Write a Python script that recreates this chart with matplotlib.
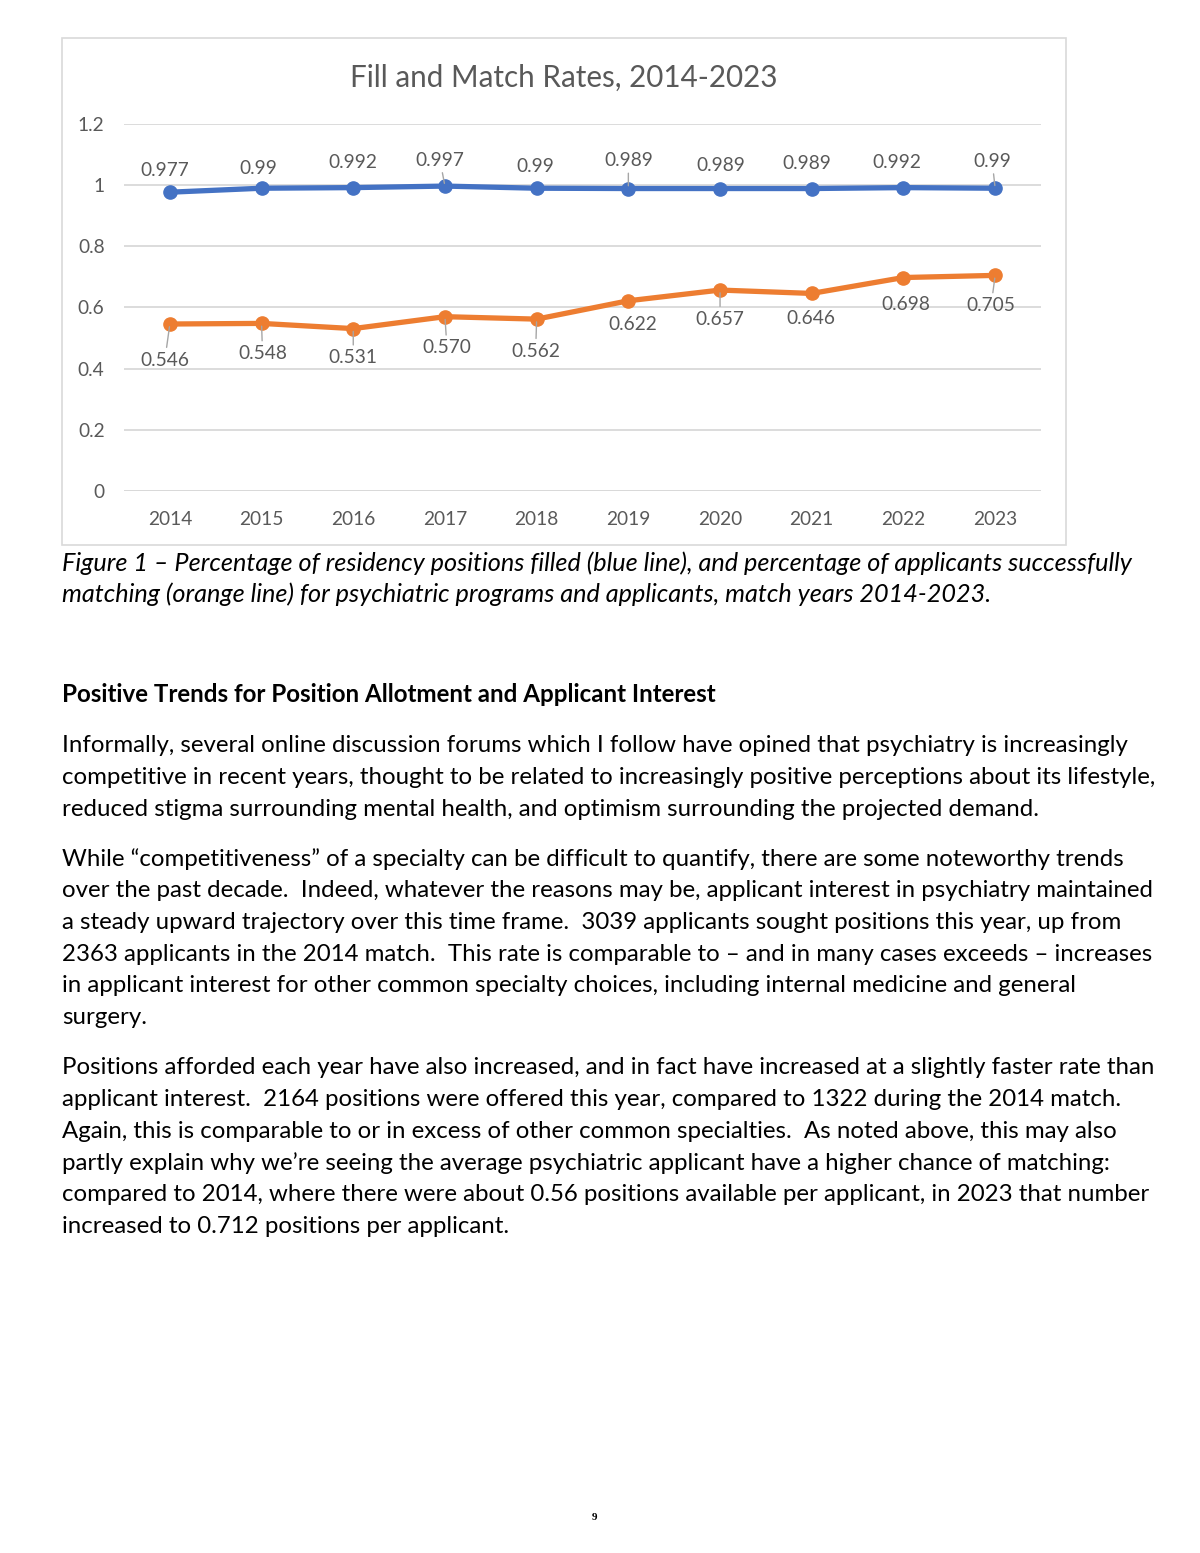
import numpy as np
import matplotlib
matplotlib.use("Agg")
import matplotlib.pyplot as plt
from matplotlib.patches import Rectangle

#%% data
years = ["2014", "2015", "2016", "2017", "2018", "2019", "2020", "2021", "2022", "2023"]
fill_rate = [0.977, 0.99, 0.992, 0.997, 0.99, 0.989, 0.989, 0.989, 0.992, 0.99]
match_rate = [0.546, 0.548, 0.531, 0.570, 0.562, 0.622, 0.657, 0.646, 0.698, 0.705]
fill_labels = ["0.977", "0.99", "0.992", "0.997", "0.99", "0.989", "0.989", "0.989", "0.992", "0.99"]
match_labels = ["0.546", "0.548", "0.531", "0.570", "0.562", "0.622", "0.657", "0.646", "0.698", "0.705"]

# label offsets in pixels (dx, dy up) and leader line flags
fill_off = [(-5, 22), (-3, 20), (0, 25), (-5, 26), (-1, 22), (0, 28), (1, 23), (-5, 25), (-7, 25), (-3, 27)]
fill_lead = [0, 0, 0, 1, 0, 1, 0, 0, 0, 1]
match_off = [(-5, -36), (1, -30), (0, -29), (2, -31), (-1, -32), (4, -24), (0, -29), (-1, -25), (2, -27), (-4, -30)]
match_lead = [1, 1, 1, 1, 1, 0, 1, 0, 0, 1]

caption = ["Figure 1 \u2013 Percentage of residency positions filled (blue line), and percentage of applicants successfully",
           "matching (orange line) for psychiatric programs and applicants, match years 2014-2023."]
heading = "Positive Trends for Position Allotment and Applicant Interest"
para1 = ["Informally, several online discussion forums which I follow have opined that psychiatry is increasingly",
         "competitive in recent years, thought to be related to increasingly positive perceptions about its lifestyle,",
         "reduced stigma surrounding mental health, and optimism surrounding the projected demand."]
para2 = ["While \u201ccompetitiveness\u201d of a specialty can be difficult to quantify, there are some noteworthy trends",
         "over the past decade.  Indeed, whatever the reasons may be, applicant interest in psychiatry maintained",
         "a steady upward trajectory over this time frame.  3039 applicants sought positions this year, up from",
         "2363 applicants in the 2014 match.  This rate is comparable to \u2013 and in many cases exceeds \u2013 increases",
         "in applicant interest for other common specialty choices, including internal medicine and general",
         "surgery."]
para3 = ["Positions afforded each year have also increased, and in fact have increased at a slightly faster rate than",
         "applicant interest.  2164 positions were offered this year, compared to 1322 during the 2014 match.",
         "Again, this is comparable to or in excess of other common specialties.  As noted above, this may also",
         "partly explain why we\u2019re seeing the average psychiatric applicant have a higher chance of matching:",
         "compared to 2014, where there were about 0.56 positions available per applicant, in 2023 that number",
         "increased to 0.712 positions per applicant."]

#%% page
W, H = 1200, 1553
plt.rcParams['font.family'] = ['Lato', 'DejaVu Sans']
fig = plt.figure(figsize=(W / 100, H / 100), dpi=100)
fig.patch.set_facecolor('white')

def fx(x):
    return x / W

def fy(y):
    return 1 - y / H

GRAY = '#595959'
BLUE = '#4472C4'
ORANGE = '#ED7D31'
BODY = 17.3

# chart frame
fig.patches.append(Rectangle((fx(62), fy(545)), fx(1066) - fx(62), fy(38) - fy(545),
                             transform=fig.transFigure, fill=False, edgecolor='#d9d9d9', lw=1.2))

ax = fig.add_axes([fx(124), fy(491), fx(1041) - fx(124), fy(124) - fy(491)])
x = np.arange(len(years))
ax.set_xlim(-0.5, len(years) - 0.5)
ax.set_ylim(0, 1.2)
ax.set_yticks([0, 0.2, 0.4, 0.6, 0.8, 1.0, 1.2])
ax.set_yticklabels(["0", "0.2", "0.4", "0.6", "0.8", "1", "1.2"])
ax.set_xticks(x)
ax.set_xticklabels(years)
for s in ax.spines.values():
    s.set_visible(False)
ax.grid(axis='y', color='#d9d9d9', lw=1.3)
ax.set_axisbelow(True)
ax.axhline(0, color='#d9d9d9', lw=2, zorder=1)
ax.tick_params(length=0, labelsize=13.8, labelcolor=GRAY)
ax.tick_params(axis='y', pad=14)
ax.tick_params(axis='x', pad=14.5)
ax.patch.set_alpha(0)

ax.plot(x, fill_rate, color=BLUE, lw=3.8, marker='o', ms=9.5, zorder=3, solid_capstyle='round')
ax.plot(x, match_rate, color=ORANGE, lw=3.8, marker='o', ms=9.5, zorder=3, solid_capstyle='round')

def labels(vals, txts, offs, leads):
    for i, (v, t, o, l) in enumerate(zip(vals, txts, offs, leads)):
        ap = None
        if l:
            ap = dict(arrowstyle='-', color='#a6a6a6', lw=1, shrinkA=1, shrinkB=2)
        ax.annotate(t, (i, v), xytext=(o[0] * 0.72, o[1] * 0.72), textcoords='offset points',
                    ha='center', va='center', fontsize=13.8, color=GRAY, arrowprops=ap, zorder=4)

labels(fill_rate, fill_labels, fill_off, fill_lead)
labels(match_rate, match_labels, match_off, match_lead)

fig.text(fx(564), fy(78), "Fill and Match Rates, 2014-2023", ha='center', va='center',
         fontsize=21.3, color=GRAY)

#%% document text
for i, line in enumerate(caption):
    fig.text(fx(62), fy(563 + 31 * i), line, ha='left', va='center', fontsize=18.2,
             style='italic', color='black')

fig.text(fx(62), fy(695), heading, ha='left', va='center', fontsize=17.4, weight='bold', color='black')

def para(lines, y0):
    for i, line in enumerate(lines):
        fig.text(fx(62), fy(y0 + 31.7 * i), line, ha='left', va='center', fontsize=BODY, color='black')

para(para1, 746)
para(para2, 859)
para(para3, 1068)

fig.text(fx(594), fy(1518), "9", ha='center', va='center', fontsize=8, weight='bold',
         family='Liberation Serif', color='black')

plt.savefig('out.png', dpi=100)
